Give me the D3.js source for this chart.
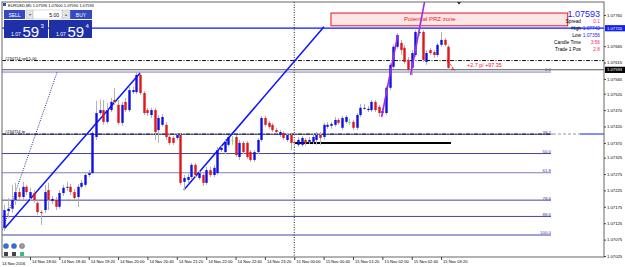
<!DOCTYPE html>
<html>
<head>
<meta charset="utf-8">
<script src="https://cdn.jsdelivr.net/npm/d3@7"></script>
<style>
body { margin: 0; background: #fff; }
svg { display: block; font-family: "Liberation Sans", Arial, sans-serif; }
</style>
</head>
<body>
<div id="chart"></div>
<script>
const width = 625
const height = 267
const frame = { left: 2, top: 2, right: 604, bottom: 257 }

// EURUSD M5, 14 Nov 17:25 .. 15 Nov 03:35 -> [open, high, low, close]
const ohlc = [
  [1.07111,1.07181,1.07101,1.07165],[1.07162,1.07202,1.07141,1.07169],[1.07169,1.07242,1.07156,1.07196],
  [1.07196,1.07248,1.07181,1.07220],[1.07220,1.07233,1.07196,1.07205],[1.07205,1.07251,1.07196,1.07236],
  [1.07236,1.07242,1.07211,1.07220],[1.07202,1.07233,1.07193,1.07220],[1.07217,1.07226,1.07187,1.07196],
  [1.07187,1.07196,1.07150,1.07159],[1.07159,1.07165,1.07120,1.07156],[1.07165,1.07242,1.07156,1.07220],
  [1.07226,1.07248,1.07165,1.07196],[1.07193,1.07208,1.07184,1.07199],[1.07196,1.07205,1.07165,1.07175],
  [1.07175,1.07226,1.07169,1.07217],[1.07217,1.07242,1.07208,1.07233],[1.07233,1.07251,1.07223,1.07236],
  [1.07236,1.07245,1.07211,1.07220],[1.07220,1.07230,1.07196,1.07202],[1.07205,1.07245,1.07175,1.07236],
  [1.07236,1.07257,1.07230,1.07248],[1.07242,1.07281,1.07236,1.07272],[1.07272,1.07287,1.07266,1.07278],
  [1.07278,1.07406,1.07275,1.07400],[1.07388,1.07498,1.07379,1.07461],[1.07461,1.07501,1.07455,1.07470],
  [1.07470,1.07501,1.07425,1.07434],[1.07434,1.07492,1.07428,1.07470],[1.07470,1.07507,1.07464,1.07495],
  [1.07501,1.07538,1.07486,1.07495],[1.07486,1.07501,1.07425,1.07431],[1.07431,1.07495,1.07422,1.07486],
  [1.07495,1.07507,1.07464,1.07470],[1.07470,1.07544,1.07464,1.07531],[1.07525,1.07541,1.07519,1.07531],
  [1.07525,1.07586,1.07519,1.07577],[1.07577,1.07586,1.07516,1.07522],[1.07522,1.07528,1.07455,1.07461],
  [1.07470,1.07477,1.07452,1.07461],[1.07455,1.07477,1.07446,1.07470],[1.07470,1.07477,1.07379,1.07403],
  [1.07409,1.07455,1.07370,1.07446],[1.07425,1.07458,1.07419,1.07449],[1.07425,1.07434,1.07379,1.07388],
  [1.07388,1.07397,1.07364,1.07370],[1.07385,1.07391,1.07364,1.07370],[1.07385,1.07400,1.07379,1.07394],
  [1.07394,1.07400,1.07242,1.07248],[1.07251,1.07272,1.07226,1.07263],[1.07257,1.07275,1.07248,1.07266],
  [1.07266,1.07309,1.07260,1.07303],[1.07303,1.07309,1.07263,1.07272],[1.07263,1.07287,1.07257,1.07278],
  [1.07272,1.07281,1.07239,1.07248],[1.07248,1.07297,1.07242,1.07287],[1.07287,1.07297,1.07266,1.07272],
  [1.07272,1.07303,1.07266,1.07294],[1.07278,1.07358,1.07272,1.07348],[1.07348,1.07361,1.07342,1.07355],
  [1.07342,1.07382,1.07336,1.07373],[1.07364,1.07394,1.07358,1.07388],[1.07379,1.07391,1.07364,1.07379],
  [1.07388,1.07394,1.07327,1.07333],[1.07327,1.07379,1.07318,1.07370],[1.07370,1.07376,1.07336,1.07342],
  [1.07370,1.07376,1.07321,1.07327],[1.07342,1.07348,1.07312,1.07318],[1.07318,1.07348,1.07312,1.07342],
  [1.07342,1.07385,1.07336,1.07379],[1.07379,1.07452,1.07373,1.07446],[1.07446,1.07452,1.07419,1.07425],
  [1.07431,1.07437,1.07413,1.07419],[1.07425,1.07431,1.07403,1.07409],[1.07409,1.07416,1.07397,1.07403],
  [1.07394,1.07409,1.07388,1.07403],[1.07400,1.07406,1.07379,1.07385],[1.07379,1.07400,1.07373,1.07394],
  [1.07394,1.07400,1.07348,1.07370],[1.07373,1.07379,1.07358,1.07370],[1.07364,1.07388,1.07358,1.07379],
  [1.07364,1.07391,1.07358,1.07385],[1.07379,1.07385,1.07361,1.07370],[1.07373,1.07388,1.07367,1.07379],
  [1.07373,1.07397,1.07367,1.07388],[1.07379,1.07403,1.07364,1.07394],[1.07394,1.07403,1.07364,1.07385],
  [1.07388,1.07431,1.07379,1.07425],[1.07419,1.07434,1.07413,1.07425],[1.07422,1.07434,1.07413,1.07428],
  [1.07425,1.07449,1.07419,1.07440],[1.07440,1.07446,1.07425,1.07431],[1.07416,1.07452,1.07409,1.07446],
  [1.07434,1.07455,1.07428,1.07449],[1.07434,1.07443,1.07425,1.07434],[1.07434,1.07440,1.07409,1.07416],
  [1.07416,1.07461,1.07409,1.07455],[1.07455,1.07489,1.07449,1.07477],[1.07474,1.07489,1.07470,1.07477],
  [1.07470,1.07483,1.07464,1.07474],[1.07470,1.07501,1.07464,1.07495],[1.07495,1.07501,1.07464,1.07470],
  [1.07480,1.07486,1.07449,1.07461],[1.07461,1.07477,1.07455,1.07467],[1.07461,1.07544,1.07455,1.07538],
  [1.07538,1.07614,1.07531,1.07608],[1.07602,1.07669,1.07596,1.07663],[1.07663,1.07705,1.07657,1.07699],
  [1.07675,1.07684,1.07638,1.07653],[1.07660,1.07669,1.07611,1.07617],[1.07623,1.07632,1.07586,1.07593],
  [1.07599,1.07653,1.07577,1.07644],[1.07638,1.07714,1.07632,1.07708],[1.07705,1.07714,1.07696,1.07708],
  [1.07708,1.07714,1.07617,1.07623],[1.07617,1.07653,1.07608,1.07644],[1.07653,1.07660,1.07638,1.07644],
  [1.07647,1.07653,1.07629,1.07638],[1.07638,1.07675,1.07632,1.07669],[1.07669,1.07708,1.07663,1.07684],
  [1.07684,1.07690,1.07663,1.07669],[1.07663,1.07669,1.07593,1.07599],[1.07596,1.07600,1.07590,1.07593]
]

const timeTicks = [7, 15, 23, 31, 39, 47, 55, 63, 71, 79, 87, 95, 103, 111, 119]
const timeLabels = ['14 Nov 18:00', '14 Nov 18:40', '14 Nov 19:20', '14 Nov 20:00', '14 Nov 20:40',
  '14 Nov 21:20', '14 Nov 22:00', '14 Nov 22:40', '14 Nov 23:20', '15 Nov 00:00', '15 Nov 00:40',
  '15 Nov 01:20', '15 Nov 02:00', '15 Nov 02:40', '15 Nov 03:20']
const priceTicks = ['1.07760', '1.07665', '1.07615', '1.07565', '1.07520', '1.07470', '1.07420',
  '1.07370', '1.07325', '1.07275', '1.07225', '1.07175', '1.07125', '1.07075', '1.07025']

const fibLevels = [0, 38.2, 50, 61.8, 78.6, 88.6, 100]
const fibHigh = 1.07586
const fibLow = 1.07089

const bid = 1.07593
const sellPrice = 1.07621
const tpPrice = 1.07397
const blueLevel = 1.07720
const supportLevel = 1.07370
const przZone = { from: 89, to: 153.5, top: 1.07766, bottom: 1.07727 }

// [bar index, price] pairs
const blueTrend1 = [[0, 1.07108], [37, 1.07583]]
const blueTrend2 = [[48.9, 1.07226], [87.1, 1.07724]]
const dottedTrend = [[-0.5, 1.07105], [14.4, 1.07586]]
const purple1 = [[102.8, 1.07449], [107.2, 1.07699]]
const purple2 = [[110.7, 1.07577], [114.6, 1.07806]]

const infoRows = [['Spread', '0.1', '#ff1a75'], ['High', '1.07742', '#1a1aff'], ['Low', '1.07356', '#1a1aff'],
  ['Candle Time', '3:56', '#ff1a75'], ['Trade 1 Pos', '2.8', '#ff1a75']]

const x = d3.scaleLinear().domain([0, ohlc.length - 1]).range([4.3, 452.1])
const y = d3.scaleLinear().domain([1.07025, 1.07760]).range([256, 15])

let svg = d3.select('#chart')
    .append('svg')
    .attr('width', width)
    .attr('height', height)

svg.append('clipPath').attr('id', 'plotclip')
    .append('rect')
    .attr('x', frame.left).attr('y', frame.top)
    .attr('width', frame.right - frame.left).attr('height', frame.bottom - frame.top)

let plot = svg.append('g').attr('clip-path', 'url(#plotclip)')

// PRZ zone
plot.append('rect')
    .attr('x', x(przZone.from))
    .attr('y', y(przZone.top))
    .attr('width', x(przZone.to) - x(przZone.from))
    .attr('height', y(przZone.bottom) - y(przZone.top))
    .style('fill', '#fde6e6')
    .style('stroke', '#e8121a')
    .style('stroke-width', 1)
plot.append('text')
    .attr('x', x(przZone.from) + 73)
    .attr('y', (y(przZone.top) + y(przZone.bottom)) / 2 + 2)
    .style('font-size', '6px')
    .style('fill', '#f0141e')
    .text('Potential PRZ zone')

// fibonacci levels
const fibPrice = lv => fibHigh - (fibHigh - fibLow) * lv / 100
plot.selectAll('.fib')
    .data(fibLevels)
    .join('line')
    .attr('class', 'fib')
    .attr('x1', frame.left).attr('x2', 551)
    .attr('y1', d => y(fibPrice(d))).attr('y2', d => y(fibPrice(d)))
    .style('stroke', d => (d == 61.8 || d == 0) ? '#7d7dc4' : '#45459e')
    .style('stroke-width', 1)
plot.selectAll('.fibtxt')
    .data(fibLevels)
    .join('text')
    .attr('class', 'fibtxt')
    .attr('x', 551)
    .attr('y', d => y(fibPrice(d)) - 0.6)
    .attr('text-anchor', 'end')
    .style('font-size', '4.4px')
    .style('fill', '#3c3ca0')
    .text(d => d.toFixed(1))

// day separator
plot.append('line')
    .attr('x1', x(79)).attr('x2', x(79))
    .attr('y1', frame.top).attr('y2', frame.bottom)
    .style('stroke', '#222').style('stroke-dasharray', '1,1.5')

// horizontal objects
plot.append('line')
    .attr('x1', frame.left).attr('x2', frame.right)
    .attr('y1', y(blueLevel)).attr('y2', y(blueLevel))
    .style('stroke', '#0a14ff').style('stroke-width', 1.3)
plot.append('line')
    .attr('x1', frame.left).attr('x2', frame.right)
    .attr('y1', y(sellPrice)).attr('y2', y(sellPrice))
    .style('stroke', '#111').style('stroke-dasharray', '4,1.5,1,1.5')
plot.append('line')
    .attr('x1', frame.left).attr('x2', 553)
    .attr('y1', y(tpPrice)).attr('y2', y(tpPrice))
    .style('stroke', '#111').style('stroke-dasharray', '4,1.5,1,1.5')
plot.append('line')
    .attr('x1', 553).attr('x2', 580)
    .attr('y1', y(tpPrice)).attr('y2', y(tpPrice))
    .style('stroke', '#999').style('stroke-dasharray', '3,2')
plot.append('line')
    .attr('x1', 580).attr('x2', frame.right)
    .attr('y1', y(tpPrice)).attr('y2', y(tpPrice))
    .style('stroke', '#1020e0').style('stroke-width', 1)
plot.append('line')
    .attr('x1', frame.left).attr('x2', frame.right)
    .attr('y1', y(bid)).attr('y2', y(bid))
    .style('stroke', '#555')
plot.append('line')
    .attr('x1', x(78.9)).attr('x2', x(121.7))
    .attr('y1', y(supportLevel)).attr('y2', y(supportLevel))
    .style('stroke', '#000').style('stroke-width', 2)

plot.append('text').attr('x', 5).attr('y', y(sellPrice) - 1)
    .style('font-size', '4px').text('#234714 sell 5.00')
plot.append('text').attr('x', 5).attr('y', y(tpPrice) - 1)
    .style('font-size', '4px').text('#234714 tp')

// trend lines
const toLine = d3.line().x(d => x(d[0])).y(d => y(d[1]))
plot.append('path').attr('d', toLine(dottedTrend))
    .style('fill', 'none').style('stroke', '#2a2a90').style('stroke-dasharray', '1,1.3')
plot.append('path').attr('d', toLine(blueTrend1))
    .style('fill', 'none').style('stroke', '#0a14ff').style('stroke-width', 1.5)
plot.append('path').attr('d', toLine(blueTrend2))
    .style('fill', 'none').style('stroke', '#0a14ff').style('stroke-width', 1.5)

// candles
const isDoji = d => d[0] == d[3]
plot.selectAll('.wick')
    .data(ohlc)
    .join('line')
    .attr('class', 'wick')
    .attr('x1', (d, i) => Math.round(x(i)) + 0.5)
    .attr('x2', (d, i) => Math.round(x(i)) + 0.5)
    .attr('y1', d => y(d[1]))
    .attr('y2', d => y(d[2]))
    .style('stroke', d => isDoji(d) ? '#8ee070' : '#b3b3b3')
plot.selectAll('.body')
    .data(ohlc)
    .join('rect')
    .attr('class', 'body')
    .attr('x', (d, i) => Math.round(x(i)) - 0.7)
    .attr('width', 2.4)
    .attr('y', d => y(Math.max(d[0], d[3])))
    .attr('height', d => Math.max(1, Math.abs(y(d[0]) - y(d[3]))))
    .style('fill', d => isDoji(d) ? '#8ee070' : (d[3] > d[0] ? '#1010e6' : '#e3141a'))

plot.append('path').attr('d', toLine(purple1))
    .style('fill', 'none').style('stroke', '#9b2ee6').style('stroke-width', 1.6)
plot.append('path').attr('d', toLine(purple2))
    .style('fill', 'none').style('stroke', '#9b2ee6').style('stroke-width', 1.6)

// open trade marker
const last = ohlc.length - 1
plot.append('line')
    .attr('x1', x(last - 1.2)).attr('y1', y(sellPrice))
    .attr('x2', x(last + 0.8)).attr('y2', y(bid) + 1)
    .style('stroke', '#e01010').style('stroke-dasharray', '1,1')
plot.append('circle').attr('cx', x(last - 1.2)).attr('cy', y(sellPrice)).attr('r', 1.1)
    .style('fill', '#e01010')
plot.append('text').attr('x', 467).attr('y', y(bid) - 2.5)
    .style('font-size', '5.4px').style('fill', '#f0141e')
    .text('+2.7 p/ +97.35')

// shift marker
svg.append('path').attr('d', 'M457,2 L461,2 L459,4.5 Z').style('fill', '#000')

// frame
svg.append('rect')
    .attr('x', frame.left).attr('y', frame.top)
    .attr('width', frame.right - frame.left).attr('height', frame.bottom - frame.top)
    .style('fill', 'none').style('stroke', '#666').style('stroke-width', 1)

// price axis
let yAxis = svg.append('g')
    .attr('transform', `translate(${frame.right},0)`)
    .call(d3.axisRight(y).tickValues(priceTicks.map(Number)).tickFormat(d3.format('.5f')).tickSize(2).tickPadding(1))
yAxis.select('.domain').remove()
yAxis.selectAll('text').style('font-size', '4.2px').style('font-family', 'Liberation Sans')
yAxis.selectAll('line').style('stroke', '#444')

const axisBox = (price, fill) => {
    svg.append('rect').attr('x', 605).attr('y', y(price) - 3).attr('width', 20).attr('height', 6.2)
        .style('fill', fill)
    svg.append('text').attr('x', 607).attr('y', y(price) + 1.5)
        .style('font-size', '4.2px').style('fill', '#fff').text(price.toFixed(5))
}
axisBox(blueLevel, '#1020f0')
axisBox(bid, '#000')

// time axis
let xAxis = svg.append('g')
    .attr('transform', `translate(0,${frame.bottom})`)
    .call(d3.axisBottom(x).tickValues(timeTicks).tickFormat((d, i) => timeLabels[i]).tickSize(3).tickPadding(2))
xAxis.select('.domain').remove()
xAxis.selectAll('line').style('stroke', '#444')
xAxis.selectAll('text')
    .attr('text-anchor', 'start')
    .attr('x', 1.5)
    .attr('y', 3)
    .style('font-size', '4.1px')
    .style('font-family', 'Liberation Sans')
svg.append('text').attr('x', 2).attr('y', 265).style('font-size', '4.1px').text('14 Nov 2016')

// info panel
svg.append('text').attr('x', 600).attr('y', 17).attr('text-anchor', 'end')
    .style('font-size', '9px').style('fill', '#1a1aff').text('1.07593')
infoRows.forEach((r, i) => {
    svg.append('text').attr('x', 581).attr('y', 23 + i * 7).attr('text-anchor', 'end')
        .style('font-size', '4.8px').style('fill', '#000').text(r[0])
    svg.append('text').attr('x', 600).attr('y', 23 + i * 7).attr('text-anchor', 'end')
        .style('font-size', '4.8px').style('fill', r[2]).text(r[1])
})

// title
svg.append('rect').attr('x', 3).attr('y', 3).attr('width', 3).attr('height', 3).style('fill', '#3050c0')
svg.append('text').attr('x', 8).attr('y', 7).style('font-size', '4px')
    .text('EURUSD,M5  1.07596 1.07600 1.07590 1.07593')

// one click trading panel
const btn = (bx, bw, label) => {
    svg.append('rect').attr('x', bx).attr('y', 10).attr('width', bw).attr('height', 9).style('fill', '#3549c4')
    svg.append('text').attr('x', bx + bw / 2).attr('y', 16.5).attr('text-anchor', 'middle')
        .style('font-size', '5px').style('fill', '#fff').text(label)
}
btn(4, 21, 'SELL')
btn(70, 22, 'BUY')
svg.append('rect').attr('x', 26).attr('y', 10).attr('width', 7).attr('height', 9).style('fill', '#e4e4e4').style('stroke', '#bbb').style('stroke-width', 0.5)
svg.append('rect').attr('x', 62).attr('y', 10).attr('width', 8).attr('height', 9).style('fill', '#e4e4e4').style('stroke', '#bbb').style('stroke-width', 0.5)
svg.append('rect').attr('x', 33).attr('y', 10).attr('width', 29).attr('height', 9).style('fill', '#fff').style('stroke', '#bbb').style('stroke-width', 0.5)
svg.append('text').attr('x', 29.5).attr('y', 16).attr('text-anchor', 'middle').style('font-size', '4px').style('fill', '#555').text('▾')
svg.append('text').attr('x', 66).attr('y', 16).attr('text-anchor', 'middle').style('font-size', '4px').style('fill', '#555').text('▴')
svg.append('text').attr('x', 59).attr('y', 16.5).attr('text-anchor', 'end').style('font-size', '5px').text('5.00')

const priceBox = (bx, bw, pips, last) => {
    svg.append('rect').attr('x', bx).attr('y', 20).attr('width', bw).attr('height', 18).style('fill', '#1f30a6')
    svg.append('text').attr('x', bx + 7).attr('y', 35.5).style('font-size', '5px').style('fill', '#fff').text('1.07')
    svg.append('text').attr('x', bx + 18.5).attr('y', 36.5).style('font-size', '15px').style('fill', '#fff').text(pips)
    svg.append('text').attr('x', bx + 36.5).attr('y', 27.5).style('font-size', '6px').style('fill', '#fff').text(last)
}
priceBox(4, 44, '59', '3')
priceBox(49, 43, '59', '4')

// small expert buttons bottom left
const dots = ['#2f6fe0', '#2f6fe0', '#9a9a9a']
dots.forEach((c, i) => {
    svg.append('circle').attr('cx', 6 + i * 8).attr('cy', 246).attr('r', 2.6).style('fill', c).style('stroke', '#555').style('stroke-width', 0.4)
})
const squares = ['#444', '#444', '#2ec27e']
squares.forEach((c, i) => {
    svg.append('rect').attr('x', 4 + i * 8).attr('y', 252).attr('width', 4).attr('height', 4).style('fill', c)
})
</script>
</body>
</html>
